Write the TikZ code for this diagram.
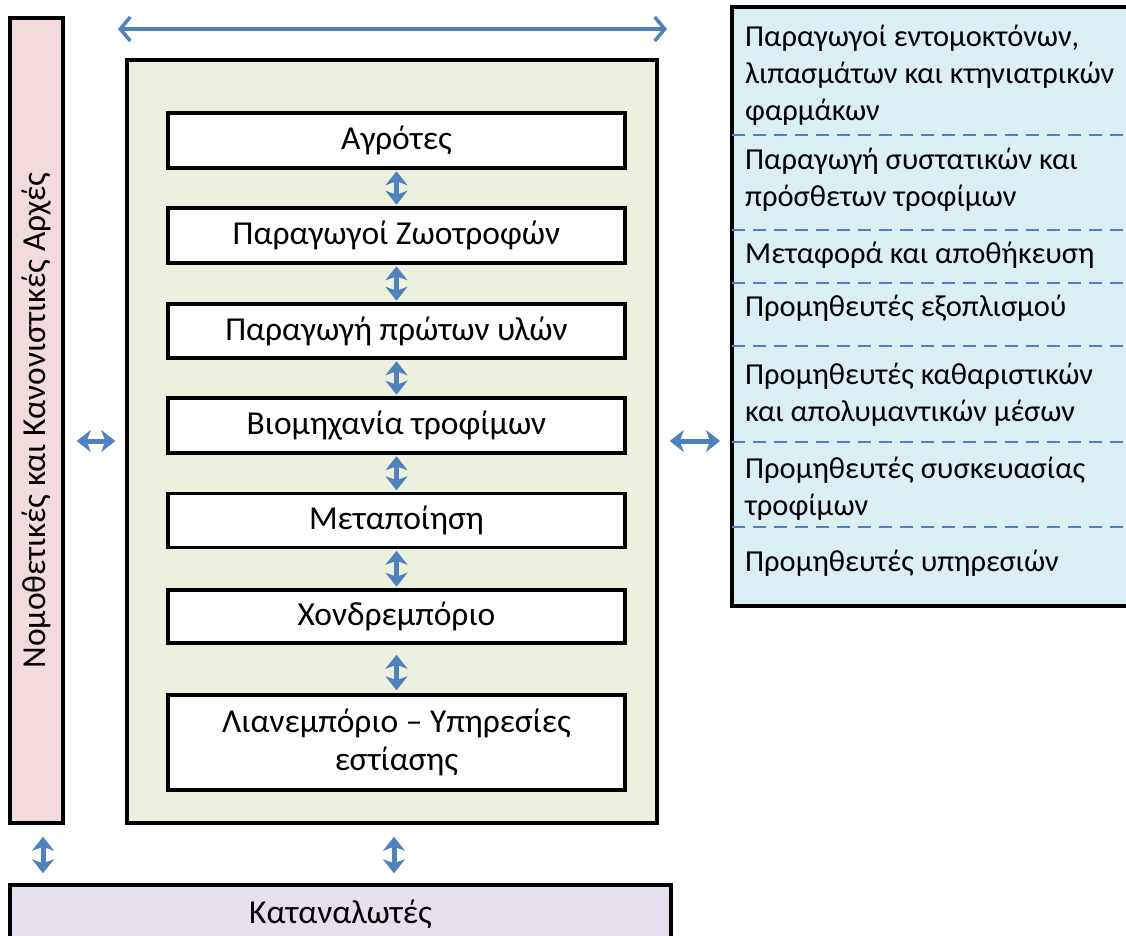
\documentclass[tikz,border=0pt]{standalone}
\usepackage{fontspec}
\setmainfont{Carlito}
\usetikzlibrary{arrows.meta}
\definecolor{arrowblue}{HTML}{4F81BD}
\definecolor{pinkfill}{HTML}{F2DCDB}
\definecolor{greenfill}{HTML}{EBF1DE}
\definecolor{purplefill}{HTML}{E5E0EC}
\definecolor{aquafill}{HTML}{DBEEF4}

\begin{document}
\begin{tikzpicture}[x=1pt,y=-1pt,
  txt/.style={font=\fontsize{33.5}{38}\selectfont},
  smalltxt/.style={font=\fontsize{30.5}{37}\selectfont},
  frame/.style={draw=black, line width=3.5pt, inner sep=0pt},
  stage/.style={frame, fill=white, minimum width=457pt, align=center, txt},
  supplier/.style={anchor=west, align=left, inner sep=0pt, smalltxt},
  sepline/.style={draw=arrowblue, line width=2.5pt, dash pattern=on 13pt off 8pt},
  dbl/.style={draw=arrowblue, line width=5pt,
    {Stealth[length=14pt,width=22pt,inset=4pt]}-{Stealth[length=14pt,width=22pt,inset=4pt]}},
  wide/.style={draw=arrowblue, line width=3.5pt,
    {Straight Barb[length=10pt,width=24pt]}-{Straight Barb[length=10pt,width=24pt]}}
]
\useasboundingbox (0,0) rectangle (1126,935);
\clip (0,0) rectangle (1126,935);

% regulators column
\node[frame, fill=pinkfill, minimum width=53pt, minimum height=805pt] (pink) at (36.5,420.5) {};
\node[txt, rotate=90] (pinklabel) at (pink.center) {Νομοθετικές και Κανονιστικές Αρχές};

% food chain container
\node[frame, fill=greenfill, minimum width=530pt, minimum height=763pt] (green) at (392,441.5) {};

% chain stages
\node[stage, minimum height=55pt] (s1) at (396.5,140.5) {Αγρότες};
\node[stage, minimum height=55pt] (s2) at (396.5,235.5) {Παραγωγοί Ζωοτροφών};
\node[stage, minimum height=54pt] (s3) at (396.5,331) {Παραγωγή πρώτων υλών};
\node[stage, minimum height=55pt] (s4) at (396.5,425.5) {Βιομηχανία τροφίμων};
\node[stage, minimum height=54pt] (s5) at (396.5,520.5) {Μεταποίηση};
\node[stage, minimum height=53pt] (s6) at (396.5,616.5) {Χονδρεμπόριο};
\node[stage, minimum height=95pt] (s7) at (396.5,742.5) {Λιανεμπόριο – Υπηρεσίες\\εστίασης};

\draw[dbl, shorten <=1.5pt, shorten >=1.5pt] (s1) -- (s2);
\draw[dbl, shorten <=1.5pt, shorten >=1.5pt] (s2) -- (s3);
\draw[dbl, shorten <=1.5pt, shorten >=1.5pt] (s3) -- (s4);
\draw[dbl, shorten <=1.5pt, shorten >=1.5pt] (s4) -- (s5);
\draw[dbl, shorten <=1.5pt, shorten >=1.5pt] (s5) -- (s6);
\draw[dbl, shorten <=10pt, shorten >=3pt] (s6) -- (s7);

% suppliers box
\node[frame, fill=aquafill, minimum width=405pt, minimum height=599pt, anchor=north west] (sup) at (730,5) {};
\foreach \yy in {135,230,283,346,442,527}
  \draw[sepline] (731.75,\yy) -- (1135,\yy);
\node[supplier] (p1) at (745,75.5) {Παραγωγοί εντομοκτόνων,\\λιπασμάτων και κτηνιατρικών\\φαρμάκων};
\node[supplier] (p2) at (745,180) {Παραγωγή συστατικών και\\πρόσθετων τροφίμων};
\node[supplier] (p3) at (745,255) {Μεταφορά και αποθήκευση};
\node[supplier] (p4) at (745,308) {Προμηθευτές εξοπλισμού};
\node[supplier] (p5) at (745,394.5) {Προμηθευτές καθαριστικών\\και απολυμαντικών μέσων};
\node[supplier] (p6) at (745,489) {Προμηθευτές συσκευασίας\\τροφίμων};
\node[supplier] (p7) at (745,563) {Προμηθευτές υπηρεσιών};

% consumers
\node[frame, fill=purplefill, minimum width=661pt, minimum height=58pt, txt] (cons) at (340.5,914) {Καταναλωτές};

% connectors between the blocks
\coordinate (tl) at (118,29);
\coordinate (tr) at (667,29);
\draw[wide] (tl) -- (tr);

\coordinate (mid) at (0,441);
\draw[dbl, shorten <=12pt, shorten >=10pt] (pink.east |- mid) -- (green.west |- mid);
\draw[dbl, shorten <=11pt, shorten >=10pt] (green.east |- mid) -- (sup.west |- mid);

\coordinate (xa) at (43,0);
\coordinate (xb) at (394,0);
\draw[dbl, shorten <=12pt, shorten >=10pt] (pink.south -| xa) -- (cons.north -| xa);
\draw[dbl, shorten <=12pt, shorten >=10pt] (green.south -| xb) -- (cons.north -| xb);
\end{tikzpicture}
\end{document}
